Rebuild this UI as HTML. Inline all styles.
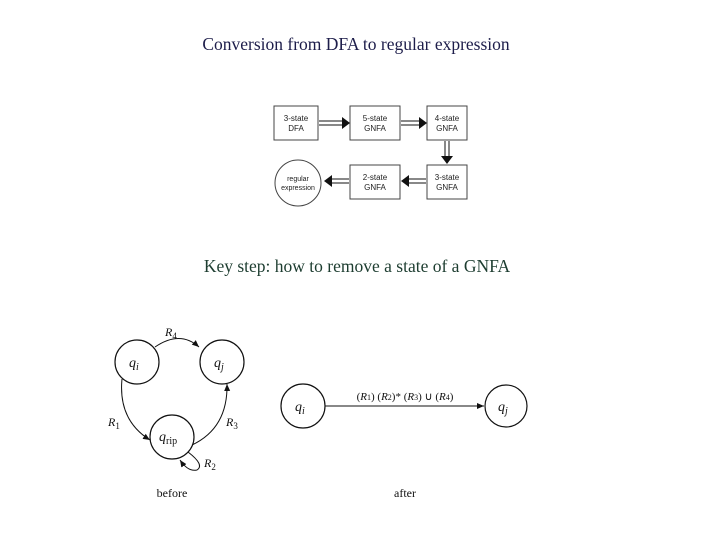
<!DOCTYPE html>
<html><head><meta charset="utf-8"><style>
html,body{margin:0;padding:0;background:#fff;width:720px;height:540px;overflow:hidden}
</style></head><body>
<svg width="720" height="540" viewBox="0 0 720 540" xmlns="http://www.w3.org/2000/svg" font-family="Liberation Serif, serif">
<defs>
<marker id="a" markerWidth="8" markerHeight="8" refX="7" refY="4" orient="auto" markerUnits="userSpaceOnUse"><path d="M0,1 L7,4 L0,7 z" fill="#111"/></marker>
</defs>
<text x="356" y="50" text-anchor="middle" font-size="17.5" fill="#1d1d4a">Conversion from DFA to regular expression</text>
<text x="357" y="272" text-anchor="middle" font-size="17.5" fill="#1d3d30">Key step: how to remove a state of a GNFA</text>

<g stroke="#444" fill="none" stroke-width="1">
<rect x="274" y="106" width="44" height="34"/>
<rect x="350" y="106" width="50" height="34"/>
<rect x="427" y="106" width="40" height="34"/>
<rect x="350" y="165" width="50" height="34"/>
<rect x="427" y="165" width="40" height="34"/>
<circle cx="298" cy="183" r="23"/>
</g>
<g stroke="#111" stroke-width="1" fill="none">
<path d="M319,121 H343 M319,125 H343" /><path d="M401,121 H420 M401,125 H420"/>
<path d="M445,141 V157 M449,141 V157"/>
<path d="M349,179 H331 M349,183 H331"/><path d="M426,179 H408 M426,183 H408"/>
</g>
<g fill="#111">
<path d="M342,117 L350,123 L342,129 z"/><path d="M419,117 L427,123 L419,129 z"/>
<path d="M441,156 L447,164 L453,156 z"/>
<path d="M332,175 L324,181 L332,187 z"/><path d="M409,175 L401,181 L409,187 z"/>
</g>
<g font-family="Liberation Sans, sans-serif" font-size="8" fill="#222" text-anchor="middle">
<text x="296" y="121">3-state</text><text x="296" y="131">DFA</text>
<text x="375" y="121">5-state</text><text x="375" y="131">GNFA</text>
<text x="447" y="121">4-state</text><text x="447" y="131">GNFA</text>
<text x="375" y="180">2-state</text><text x="375" y="190">GNFA</text>
<text x="447" y="180">3-state</text><text x="447" y="190">GNFA</text>
<text x="298" y="181" font-size="7">regular</text><text x="298" y="190" font-size="7">expression</text>
</g>

<g stroke="#111" fill="none" stroke-width="1.2">
<circle cx="137" cy="362" r="22"/><circle cx="222" cy="362" r="22"/><circle cx="172" cy="437" r="22"/>
<circle cx="303" cy="406" r="22"/><circle cx="506" cy="406" r="21"/>
</g>
<g stroke="#111" fill="none" stroke-width="1">
<path d="M155,347 Q180,330 199,347" marker-end="url(#a)"/>
<path d="M122,379 Q118,420 150,440" marker-end="url(#a)"/>
<path d="M192,445 Q228,428 227,384" marker-end="url(#a)"/>
<path d="M188,452 Q205,465 197,470 Q188,472 180,460" marker-end="url(#a)"/>
<path d="M325,406 H484" marker-end="url(#a)"/>
</g>
<g font-style="italic" font-size="14" fill="#111">
<text x="129" y="367">q<tspan font-size="10" dy="3">i</tspan></text>
<text x="214" y="367">q<tspan font-size="10" dy="3">j</tspan></text>
<text x="159" y="441">q<tspan font-size="10" dy="3" font-style="normal">rip</tspan></text>
<text x="295" y="411">q<tspan font-size="10" dy="3">i</tspan></text>
<text x="498" y="411">q<tspan font-size="10" dy="3">j</tspan></text>
<text x="165" y="336" font-size="12">R<tspan font-size="9" dy="3" font-style="normal">4</tspan></text>
<text x="108" y="426" font-size="12">R<tspan font-size="9" dy="3" font-style="normal">1</tspan></text>
<text x="226" y="426" font-size="12">R<tspan font-size="9" dy="3" font-style="normal">3</tspan></text>
<text x="204" y="467" font-size="12">R<tspan font-size="9" dy="3" font-style="normal">2</tspan></text>
</g>
<text x="405" y="400" text-anchor="middle" font-size="11" fill="#111">(<tspan font-style="italic">R</tspan><tspan font-size="8">1</tspan>) (<tspan font-style="italic">R</tspan><tspan font-size="8">2</tspan>)* (<tspan font-style="italic">R</tspan><tspan font-size="8">3</tspan>) ∪ (<tspan font-style="italic">R</tspan><tspan font-size="8">4</tspan>)</text>
<text x="172" y="497" text-anchor="middle" font-size="12" fill="#111">before</text>
<text x="405" y="497" text-anchor="middle" font-size="12" fill="#111">after</text>
</svg>
</body></html>
